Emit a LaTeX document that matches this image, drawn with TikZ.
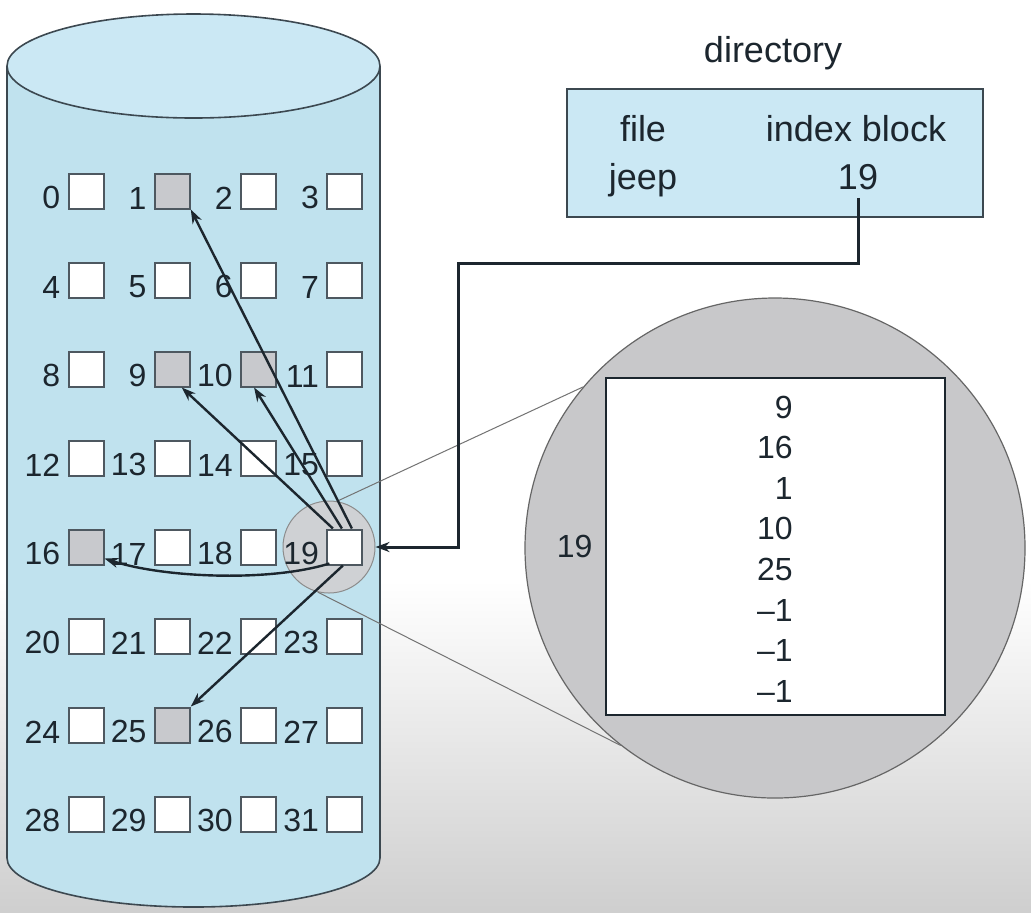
\documentclass[tikz,border=0pt]{standalone}
\usepackage{fontspec}
\setmainfont{Liberation Sans}
\usetikzlibrary{arrows.meta,positioning}
\definecolor{disk_blue}{RGB}{192,226,238}
\definecolor{disk_top}{RGB}{203,232,244}
\definecolor{disk_line}{RGB}{60,72,80}
\definecolor{blk_line}{RGB}{78,88,96}
\definecolor{used_gray}{RGB}{200,201,205}
\definecolor{lens_gray}{RGB}{207,209,212}
\definecolor{mag_gray}{RGB}{200,200,202}
\definecolor{ink}{RGB}{28,38,46}
\tikzstyle{blk}=[rectangle,draw=blk_line,line width=1pt,minimum size=17.5pt,inner sep=0pt]
\tikzstyle{freeblk}=[fill=white]
\tikzstyle{usedblk}=[fill=used_gray]
\tikzstyle{num}=[text=ink,font=\fontsize{16}{19}\selectfont,inner sep=0pt]
\tikzstyle{word}=[text=ink,font=\fontsize{18}{21}\selectfont,inner sep=0pt]
\tikzstyle{ptr}=[draw=ink,line width=1.2pt,-{Stealth[length=7pt,width=5pt]}]
\tikzstyle{lens}=[circle,fill=lens_gray,draw=black!45,line width=0.5pt,minimum size=46pt,inner sep=0pt]
\tikzstyle{mag}=[circle,fill=mag_gray,draw=black!60,line width=0.6pt,minimum size=250pt,inner sep=0pt]
\tikzstyle{idx}=[rectangle,fill=white,draw=ink,line width=1.2pt,minimum width=169.5pt,minimum height=168.5pt,inner sep=0pt]
\tikzstyle{dirbox}=[rectangle,fill=disk_top,draw=disk_line,line width=1.2pt,minimum width=208pt,minimum height=64pt,inner sep=0pt]
\tikzstyle{zoomline}=[draw=black!55,line width=0.5pt]
\begin{document}
\begin{tikzpicture}[x=0.5pt,y=-0.5pt]
    \useasboundingbox (0,0) rectangle (1031,912);
    \fill[white] (0,0) rectangle (1031,580);
    \shade[top color=white,bottom color=black!19] (0,580) rectangle (1031,912);
    \fill[disk_blue] (7,66) -- (7,858) arc[start angle=180,end angle=0,x radius=186.5,y radius=49] -- (380,66) -- cycle;
    \draw[disk_line,line width=0.8pt] (7,66) -- (7,858) arc[start angle=180,end angle=0,x radius=186.5,y radius=49] -- (380,66);
    \draw[disk_line,line width=0.8pt,fill=disk_top] (193.5,66) ellipse[x radius=186.5,y radius=52];
    \node [style=mag] (mag) at (775,548) {};
    \node [style=lens] (lens) at (329,547) {};
    \draw [style=zoomline] (lens.80) -- (mag.140);
    \draw [style=zoomline] (lens.256) -- (mag.232);
    \foreach \i in {0,...,31} {
        \pgfmathtruncatemacro{\cl}{mod(\i,4)}
        \pgfmathtruncatemacro{\rw}{\i/4}
        \pgfmathtruncatemacro{\u}{(\i==1)||(\i==9)||(\i==10)||(\i==16)||(\i==25)}
        \ifnum\u=1 \def\sty{usedblk}\else\def\sty{freeblk}\fi
        \node [blk,\sty] (b\i) at (86+86.3*\cl,191+89*\rw) {};
        \node [num,anchor=south east] (l\i) at ([xshift=-3.5pt]b\i.south west) {\i};
    }
    \draw [style=ptr] ([xshift=3.5pt]b19.north) to (b1.south east);
    \draw [style=ptr] ([xshift=-1.5pt]b19.north) to ([xshift=7pt]b10.south west);
    \draw [style=ptr] ([xshift=-6pt]b19.north) to ([xshift=-4.5pt]b9.south east);
    \draw [style=ptr] ([shift={(1.5pt,1pt)}]b19.south west) .. controls (270,582) and (165,578) .. ([yshift=3.5pt]b16.south east);
    \draw [style=ptr] ([xshift=-1pt]b19.south) to (b25.north east);
    \node [style=idx] (idx) at (775.5,546.5) {};
    \node [num,left=6pt of idx] (m19) {19};
    \foreach \v [count=\k from 0] in {9,16,1,10,25,\textendash1,\textendash1,\textendash1}
        \node [num,anchor=east] (e\k) at (793,407+40.6*\k) {\v};
    \node [word,anchor=base] (dirlbl) at (773,62) {directory};
    \node [style=dirbox] (dir) at (775,153) {};
    \node [word,anchor=base] (fhead) at (643,141) {file};
    \node [word,anchor=base] (ihead) at (856,141) {index block};
    \node [word,anchor=base] (fname) at (643,189) {jeep};
    \node [word,anchor=base] (d19) at (858,189) {19};
    \coordinate (bend) at (458,263);
    \draw [style=ptr,line width=1.5pt] ([yshift=-4pt]d19.south) |- (bend) |- (lens.east);
\end{tikzpicture}
\end{document}
